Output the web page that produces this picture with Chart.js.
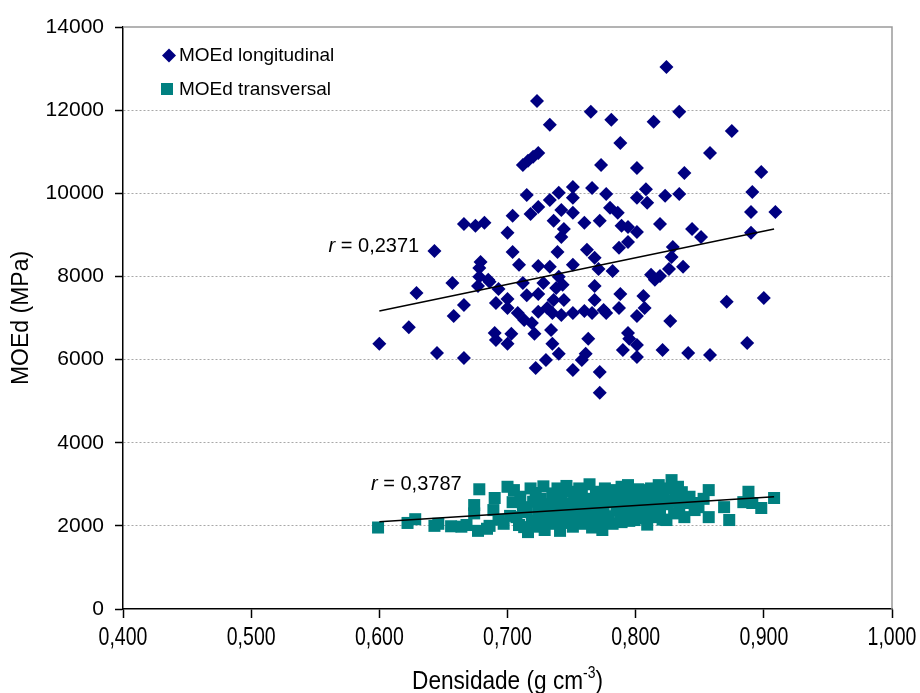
<!DOCTYPE html>
<html>
<head>
<meta charset="utf-8">
<script src="https://cdn.jsdelivr.net/npm/chart.js@4.4.1/dist/chart.umd.min.js"></script>
<style>
  html, body { margin: 0; padding: 0; background: #fff; }
  #wrap { width: 920px; height: 693px; position: relative; }
</style>
</head>
<body>
<div id="wrap"><canvas id="chart"></canvas></div>
<script>
// Densidade (g cm-3) x MOEd (MPa)
const longX = [0.824, 0.723, 0.765, 0.834, 0.781, 0.733, 0.814, 0.875, 0.788, 0.858,
  0.712, 0.716, 0.720, 0.724, 0.773, 0.801, 0.838, 0.898, 0.766, 0.777,
  0.801, 0.808, 0.809, 0.823, 0.834, 0.891, 0.890, 0.909, 0.760, 0.772,
  0.780, 0.786, 0.789, 0.794, 0.801, 0.819, 0.844, 0.851, 0.890, 0.829,
  0.794, 0.787, 0.762, 0.768, 0.828, 0.715, 0.740, 0.751, 0.751, 0.733,
  0.724, 0.718, 0.742, 0.751, 0.704, 0.666, 0.675, 0.682, 0.736, 0.744,
  0.742, 0.700, 0.643, 0.704, 0.709, 0.724, 0.733, 0.739, 0.751, 0.679,
  0.678, 0.657, 0.629, 0.678, 0.677, 0.686, 0.693, 0.712, 0.728, 0.740,
  0.743, 0.738, 0.768, 0.666, 0.658, 0.691, 0.700, 0.700, 0.708, 0.715,
  0.724, 0.713, 0.719, 0.724, 0.731, 0.736, 0.744, 0.735, 0.742, 0.751,
  0.760, 0.766, 0.768, 0.623, 0.600, 0.690, 0.691, 0.703, 0.700, 0.721,
  0.734, 0.735, 0.763, 0.645, 0.666, 0.722, 0.730, 0.740, 0.751, 0.761,
  0.758, 0.772, 0.772, 0.771, 0.782, 0.826, 0.837, 0.812, 0.815, 0.819,
  0.788, 0.806, 0.775, 0.777, 0.787, 0.807, 0.801, 0.827, 0.871, 0.900,
  0.794, 0.795, 0.801, 0.790, 0.801, 0.821, 0.841, 0.858, 0.887, 0.685];
const longY = [13040, 12220, 11960, 11960, 11770, 11650, 11720, 11500, 11210, 10970,
  10680, 10780, 10880, 10970, 10680, 10610, 10490, 10510, 10130, 9980,
  9890, 10100, 9770, 9940, 9980, 10030, 9550, 9550, 9290, 9340,
  9650, 9530, 9220, 9190, 9070, 9260, 9140, 8950, 9050, 8710,
  8830, 8690, 8640, 8450, 8470, 9960, 10010, 10150, 9890, 9840,
  9670, 9500, 9600, 9530, 9460, 9260, 9220, 9290, 9340, 9140,
  8950, 9050, 8610, 8590, 8280, 8250, 8230, 8590, 8280, 8350,
  8200, 7840, 7600, 7990, 7770, 7870, 7700, 7840, 7840, 7990,
  7800, 7720, 7770, 7310, 7050, 7360, 7460, 7240, 7120, 7550,
  7580, 6950, 6880, 7150, 7240, 7430, 7430, 7120, 7070, 7120,
  7170, 7120, 7430, 6780, 6380, 6640, 6470, 6620, 6380, 6620,
  6710, 6380, 6500, 6160, 6040, 5800, 5990, 6140, 5750, 6140,
  5990, 5700, 5200, 8180, 8130, 8180, 8230, 8040, 7920, 8010,
  7580, 7530, 7190, 7120, 7240, 7240, 7050, 6930, 7390, 7480,
  6640, 6500, 6350, 6230, 6060, 6230, 6160, 6110, 6400, 7920];

const transX = [0.599, 0.622, 0.628, 0.643, 0.646, 0.656, 0.664, 0.668, 0.674, 0.674,
  0.677, 0.678, 0.684, 0.686, 0.689, 0.690, 0.693, 0.697, 0.700, 0.702,
  0.704, 0.705, 0.707, 0.709, 0.710, 0.712, 0.713, 0.715, 0.716, 0.718,
  0.719, 0.720, 0.722, 0.723, 0.724, 0.726, 0.727, 0.728, 0.729, 0.731,
  0.733, 0.734, 0.735, 0.737, 0.738, 0.739, 0.740, 0.741, 0.742, 0.744,
  0.745, 0.746, 0.747, 0.748, 0.749, 0.751, 0.752, 0.753, 0.754, 0.756,
  0.757, 0.758, 0.759, 0.760, 0.762, 0.763, 0.764, 0.765, 0.766, 0.767,
  0.769, 0.770, 0.771, 0.772, 0.773, 0.774, 0.775, 0.776, 0.777, 0.779,
  0.780, 0.781, 0.782, 0.784, 0.785, 0.786, 0.787, 0.788, 0.789, 0.789,
  0.790, 0.792, 0.793, 0.794, 0.795, 0.796, 0.797, 0.799, 0.800, 0.801,
  0.802, 0.804, 0.805, 0.806, 0.807, 0.808, 0.809, 0.810, 0.811, 0.812,
  0.813, 0.814, 0.815, 0.816, 0.818, 0.819, 0.820, 0.821, 0.822, 0.824,
  0.825, 0.826, 0.828, 0.829, 0.830, 0.831, 0.833, 0.834, 0.835, 0.836,
  0.838, 0.840, 0.842, 0.844, 0.846, 0.849, 0.853, 0.857, 0.857, 0.869,
  0.873, 0.884, 0.888, 0.891, 0.898, 0.908];
const transY = [1960, 2070, 2160, 2000, 2050, 1990, 1980, 2020, 2300, 2500,
  1880, 2880, 1930, 2000, 2380, 2670, 2150, 2050, 2940, 2240,
  2570, 2860, 2210, 2020, 2700, 2450, 1970, 2330, 1850, 2900,
  2120, 2580, 2790, 1980, 2400, 2650, 2180, 2950, 1900, 2520,
  2300, 2050, 2780, 2610, 2140, 2900, 2420, 1880, 2700, 2250,
  2530, 2960, 2070, 2350, 2820, 1980, 2640, 2480, 2180, 2900,
  2300, 2730, 2050, 2560, 2410, 2200, 3000, 2650, 1960, 2480,
  2820, 2310, 2120, 2600, 2700, 1900, 2420, 2900, 2230, 2140,
  2580, 2760, 2050, 2860, 2380, 2490, 2660, 2200, 2940, 2090,
  2570, 2800, 2350, 2980, 2120, 2450, 2700, 2140, 2600, 2290,
  2880, 2520, 2180, 2740, 2860, 2400, 2030, 2650, 2320, 2900,
  2490, 2210, 2780, 2560, 2980, 2380, 2680, 2150, 2830, 2140,
  2520, 2900, 3100, 2600, 2300, 2750, 2940, 2450, 2640, 2810,
  2210, 2550, 2700, 2550, 2380, 2450, 2650, 2860, 2210, 2450,
  2140, 2570, 2820, 2550, 2430, 2670];

// linear trend lines (end points as drawn in the figure)
const trendLongX = [0.600, 0.908];
const trendLongY = [7170, 9140];
const trendTransX = [0.600, 0.908];
const trendTransY = [2100, 2700];

const xTicks = [0.4, 0.5, 0.6, 0.7, 0.8, 0.9, 1.0];
const yTicks = [0, 2000, 4000, 6000, 8000, 10000, 12000, 14000];
const seriesNames = ['MOEd longitudinal', 'MOEd transversal'];
const rValues = ['0,2371', '0,3787'];

const NAVY = '#000080';
const TEAL = '#008080';
const SANS = "'Liberation Sans', Arial, sans-serif";

const toPts = (xs, ys) => xs.map((x, i) => ({ x: x, y: ys[i] }));
const fmtX = v => Number(v).toFixed(3).replace('.', ',');

// condensed text (the original x axis uses a narrow face)
function narrowText(ctx, txt, x, y, size, sx, align) {
  ctx.save();
  ctx.font = size + 'px ' + SANS;
  const w = ctx.measureText(txt).width * sx;
  let left = x;
  if (align === 'center') left = x - w / 2;
  ctx.translate(left, y);
  ctx.scale(sx, 1);
  ctx.textAlign = 'left';
  ctx.fillText(txt, 0, 0);
  ctx.restore();
  return w;
}

const extras = {
  id: 'extras',
  beforeDatasetsDraw(chart) {
    const { ctx, chartArea: a } = chart;
    ctx.save();
    ctx.strokeStyle = '#9a9a9a';
    ctx.lineWidth = 1.5;
    ctx.beginPath();
    ctx.moveTo(a.left, a.top);
    ctx.lineTo(a.right, a.top);
    ctx.lineTo(a.right, a.bottom);
    ctx.stroke();
    ctx.restore();
  },
  afterDraw(chart) {
    const { ctx, chartArea: a, scales } = chart;
    ctx.save();
    ctx.fillStyle = '#000';
    ctx.textBaseline = 'alphabetic';

    // x tick labels
    xTicks.forEach(v => {
      narrowText(ctx, fmtX(v), scales.x.getPixelForValue(v), 645, 26, 0.75, 'center');
    });

    // y title
    ctx.save();
    ctx.translate(22, (a.top + a.bottom) / 2);
    ctx.rotate(-Math.PI / 2);
    ctx.font = '23px ' + SANS;
    ctx.textAlign = 'center';
    ctx.textBaseline = 'middle';
    ctx.fillText('MOEd (MPa)', 0, 0);
    ctx.restore();

    // x title with superscript
    const base = 'Densidade (g cm';
    const sup = '-3';
    const tail = ')';
    const sx = 0.87;
    ctx.font = '26px ' + SANS;
    const w1 = ctx.measureText(base).width * sx;
    const w3 = ctx.measureText(tail).width * sx;
    ctx.font = '16px ' + SANS;
    const w2 = ctx.measureText(sup).width * sx;
    const tx = (a.left + a.right) / 2 - (w1 + w2 + w3) / 2;
    const ty = 689;
    narrowText(ctx, base, tx, ty, 26, sx, 'left');
    narrowText(ctx, sup, tx + w1, ty - 11, 16, sx, 'left');
    narrowText(ctx, tail, tx + w1 + w2, ty, 26, sx, 'left');

    // legend
    ctx.fillStyle = NAVY;
    ctx.beginPath();
    ctx.moveTo(162, 55.5);
    ctx.lineTo(169, 48.5);
    ctx.lineTo(176, 55.5);
    ctx.lineTo(169, 62.5);
    ctx.closePath();
    ctx.fill();
    ctx.fillStyle = TEAL;
    ctx.fillRect(161, 83, 12, 12);
    ctx.fillStyle = '#000';
    ctx.font = '19px ' + SANS;
    ctx.textAlign = 'left';
    ctx.textBaseline = 'middle';
    ctx.fillText(seriesNames[0], 179, 56);
    ctx.fillText(seriesNames[1], 179, 90);

    // correlation labels
    const rLabel = (txt, vx, vy) => {
      const px = scales.x.getPixelForValue(vx);
      const py = scales.y.getPixelForValue(vy);
      ctx.textBaseline = 'alphabetic';
      ctx.font = 'italic 20px ' + SANS;
      ctx.fillText('r', px, py);
      const wr = ctx.measureText('r').width;
      ctx.font = '20px ' + SANS;
      ctx.fillText(' = ' + txt, px + wr, py);
    };
    rLabel(rValues[0], 0.5604, 8590);
    rLabel(rValues[1], 0.5935, 2860);
    ctx.restore();
  }
};

new Chart(document.getElementById('chart'), {
  type: 'scatter',
  data: {
    datasets: [
      {
        type: 'line',
        label: 'tendência longitudinal',
        data: toPts(trendLongX, trendLongY),
        borderColor: '#000',
        borderWidth: 1.5,
        pointRadius: 0,
        fill: false,
        order: 0
      },
      {
        type: 'line',
        label: 'tendência transversal',
        data: toPts(trendTransX, trendTransY),
        borderColor: '#000',
        borderWidth: 1.5,
        pointRadius: 0,
        fill: false,
        order: 0
      },
      {
        label: seriesNames[0],
        data: toPts(longX, longY),
        pointStyle: 'rectRot',
        pointRadius: 7,
        backgroundColor: NAVY,
        borderColor: NAVY,
        borderWidth: 0,
        order: 1
      },
      {
        label: seriesNames[1],
        data: toPts(transX, transY),
        pointStyle: 'rect',
        pointRadius: 8.5,
        backgroundColor: TEAL,
        borderColor: TEAL,
        borderWidth: 0,
        order: 1
      }
    ]
  },
  options: {
    responsive: true,
    maintainAspectRatio: false,
    animation: false,
    layout: { padding: { left: 0, top: 27, right: 28, bottom: 0 } },
    plugins: {
      legend: { display: false },
      tooltip: { enabled: false }
    },
    scales: {
      x: {
        type: 'linear',
        min: 0.4,
        max: 1.0,
        afterBuildTicks: s => { s.ticks = xTicks.map(v => ({ value: v })); },
        afterFit: s => { s.height = 84; },
        ticks: { display: false },
        grid: {
          drawOnChartArea: false,
          drawTicks: true,
          tickLength: 9,
          tickColor: '#000',
          tickWidth: 1.5
        },
        border: { color: '#000', width: 1.5 }
      },
      y: {
        min: 0,
        max: 14000,
        afterBuildTicks: s => { s.ticks = yTicks.map(v => ({ value: v })); },
        afterFit: s => { s.width = 123; },
        ticks: {
          callback: v => String(v),
          font: { family: SANS, size: 21 },
          color: '#000',
          padding: 11
        },
        grid: {
          color: c => (c.tick && (c.tick.value === 0 || c.tick.value === 14000)) ? 'rgba(0,0,0,0)' : '#a8a8a8',
          lineWidth: 1,
          tickColor: '#000',
          tickLength: 8,
          tickWidth: 1.5
        },
        border: { color: '#000', width: 1.5, dash: [2, 2] }
      }
    }
  },
  plugins: [extras]
});
</script>
</body>
</html>
